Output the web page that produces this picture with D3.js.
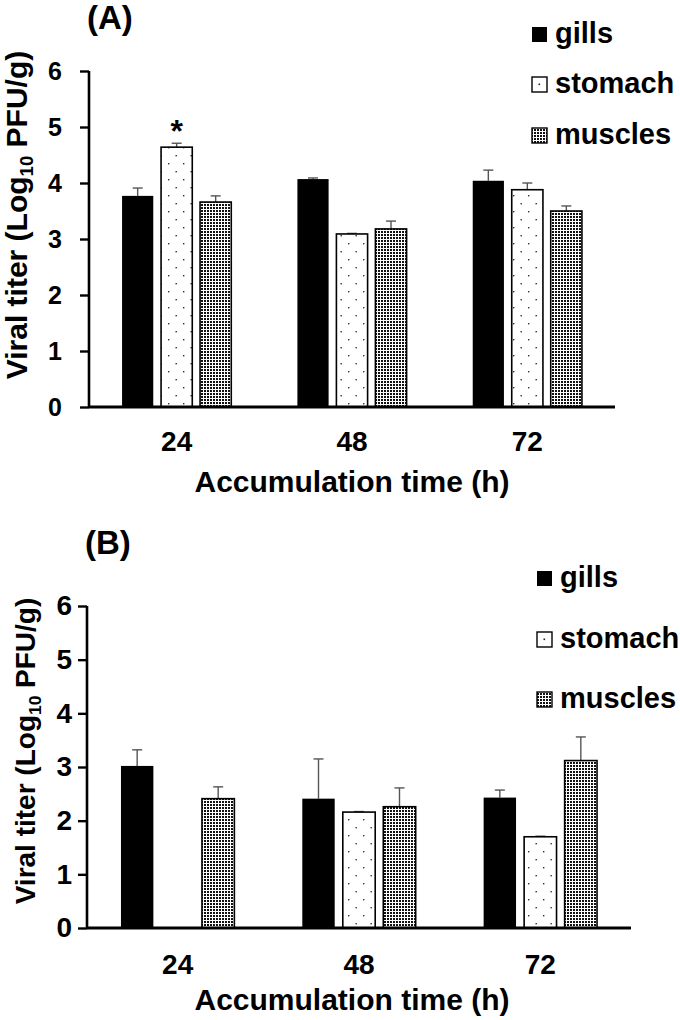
<!DOCTYPE html>
<html>
<head>
<meta charset="utf-8">
<script src="https://cdn.jsdelivr.net/npm/d3@7"></script>
<style>
  body { margin: 0; background: #fff; }
  svg { display: block; }
  text { font-family: "Liberation Sans", Arial, sans-serif; font-weight: bold; fill: #000; }
</style>
</head>
<body>
<svg id="chart" width="680" height="1020"></svg>
<script>
// ---------- data ----------
const categories = ["24", "48", "72"];
const seriesNames = ["gills", "stomach", "muscles"];
const yTicks = [0, 1, 2, 3, 4, 5, 6];

// Panel A
const aGills = [3.77, 4.07, 4.04];
const aGillsErr = [0.14, 0.02, 0.19];
const aStomach = [4.64, 3.09, 3.88];
const aStomachErr = [0.07, 0.01, 0.12];
const aMuscles = [3.66, 3.18, 3.50];
const aMusclesErr = [0.11, 0.14, 0.09];
const aSignificance = [{ cat: "24", series: "stomach", mark: "*" }];

// Panel B
const bGills = [3.02, 2.41, 2.43];
const bGillsErr = [0.30, 0.74, 0.14];
const bStomach = [null, 2.16, 1.70];
const bStomachErr = [null, 0.01, 0.01];
const bMuscles = [2.41, 2.26, 3.12];
const bMusclesErr = [0.22, 0.35, 0.44];

const xTitle = "Accumulation time (h)";

// ---------- drawing ----------
const svg = d3.select("#chart");
const defs = svg.append("defs");

// sparse dot pattern (stomach)
const pS = defs.append("pattern").attr("id", "pStomach").attr("patternUnits", "userSpaceOnUse")
  .attr("width", 15).attr("height", 16);
pS.append("rect").attr("width", 15).attr("height", 16).attr("fill", "#fff");
pS.append("rect").attr("x", 3).attr("y", 3).attr("width", 1.4).attr("height", 1.4).attr("fill", "#333");
pS.append("rect").attr("x", 10.5).attr("y", 11).attr("width", 1.4).attr("height", 1.4).attr("fill", "#333");

// dense dot pattern (muscles)
const pM = defs.append("pattern").attr("id", "pMuscles").attr("patternUnits", "userSpaceOnUse")
  .attr("width", 3).attr("height", 3);
pM.append("rect").attr("width", 3).attr("height", 3).attr("fill", "#fff");
pM.append("rect").attr("x", 0).attr("y", 0).attr("width", 2).attr("height", 2).attr("fill", "#111");

// legend pattern stomach (single dot)
const pL = defs.append("pattern").attr("id", "pStomachLeg").attr("patternUnits", "objectBoundingBox")
  .attr("width", 1).attr("height", 1);
pL.append("rect").attr("width", 15).attr("height", 15).attr("fill", "#fff");
pL.append("rect").attr("x", 6.5).attr("y", 6.5).attr("width", 1.6).attr("height", 1.6).attr("fill", "#222");

const fills = { gills: "#000", stomach: "url(#pStomach)", muscles: "url(#pMuscles)" };
const legFills = { gills: "#000", stomach: "url(#pStomachLeg)", muscles: "url(#pMuscles)" };

function drawPanel(cfg) {
  const g = svg.append("g");
  const y = d3.scaleLinear().domain([0, 6]).range([cfg.y0, cfg.y6]);
  const x = d3.scaleBand().domain(categories).range([cfg.axisX, cfg.xEnd]);
  const step = cfg.barStep;
  const xs = d3.scaleBand().domain(seriesNames)
    .range([-1.5 * step, 1.5 * step]).paddingInner(0.2).paddingOuter(0.1);

  const series = [
    { name: "gills", vals: cfg.gills, errs: cfg.gillsErr },
    { name: "stomach", vals: cfg.stomach, errs: cfg.stomachErr },
    { name: "muscles", vals: cfg.muscles, errs: cfg.musclesErr }
  ];

  const items = [];
  series.forEach(s => categories.forEach((c, i) => {
    if (s.vals[i] != null) items.push({ cat: c, series: s.name, v: s.vals[i], e: s.errs[i] });
  }));

  const cx = d => x(d.cat) + x.bandwidth() / 2 + xs(d.series) + xs.bandwidth() / 2;

  // error bars
  const eb = g.append("g").attr("stroke", "#555").attr("stroke-width", 1.4).attr("fill", "none");
  items.forEach(d => {
    if (!d.e) return;
    eb.append("line").attr("x1", cx(d)).attr("x2", cx(d)).attr("y1", y(d.v)).attr("y2", y(d.v + d.e));
    eb.append("line").attr("x1", cx(d) - 5).attr("x2", cx(d) + 5).attr("y1", y(d.v + d.e)).attr("y2", y(d.v + d.e));
  });

  // bars
  g.append("g").selectAll("rect").data(items).join("rect")
    .attr("x", d => x(d.cat) + x.bandwidth() / 2 + xs(d.series))
    .attr("y", d => y(d.v))
    .attr("width", xs.bandwidth())
    .attr("height", d => y(0) - y(d.v))
    .attr("fill", d => fills[d.series])
    .attr("stroke", "#000")
    .attr("stroke-width", d => d.series === "gills" ? 0 : 1.6);

  // significance marks
  (cfg.sig || []).forEach(s => {
    const d = items.find(it => it.cat === s.cat && it.series === s.series);
    g.append("text").attr("x", cx(d)).attr("y", y(d.v + d.e) - 1)
      .attr("text-anchor", "middle").attr("font-size", 32).text(s.mark);
  });

  // y axis
  const yAxis = g.append("g").attr("transform", `translate(${cfg.axisX},0)`)
    .call(d3.axisLeft(y).tickValues(yTicks).tickFormat(d3.format("d"))
      .tickSize(9).tickPadding(cfg.tickPad));
  yAxis.select(".domain").attr("stroke", "#000").attr("stroke-width", 2.6)
    .attr("d", `M0,${cfg.y6}V${cfg.y0}`);
  yAxis.selectAll(".tick line").attr("stroke", "#000").attr("stroke-width", 2.4);
  yAxis.selectAll(".tick text").attr("font-size", cfg.yTickFont)
    .attr("font-family", "'Liberation Sans', Arial, sans-serif").attr("font-weight", "bold").attr("fill", "#000");

  // x axis
  const xAxis = g.append("g").attr("transform", `translate(0,${cfg.y0})`)
    .call(d3.axisBottom(x).tickSize(0).tickPadding(cfg.xTickPad));
  xAxis.select(".domain").attr("stroke", "#000").attr("stroke-width", 2.8)
    .attr("d", `M${cfg.axisX},0H${cfg.xEnd}`);
  xAxis.selectAll(".tick text").attr("font-size", 28)
    .attr("font-family", "'Liberation Sans', Arial, sans-serif").attr("font-weight", "bold").attr("fill", "#000");

  // x title
  g.append("text").attr("x", 352).attr("y", cfg.xTitleY).attr("text-anchor", "middle")
    .attr("font-size", 30).text(xTitle);

  // y title
  const yt = g.append("text")
    .attr("transform", `translate(${cfg.yTitleX},${cfg.yTitleCy}) rotate(-90)`)
    .attr("text-anchor", "middle").attr("font-size", cfg.yTitleFont);
  yt.append("tspan").text("Viral titer (Log");
  yt.append("tspan").attr("font-size", cfg.yTitleFont * 0.62).attr("dy", cfg.yTitleFont * 0.2).text("10");
  yt.append("tspan").attr("dy", -cfg.yTitleFont * 0.2).text(" PFU/g)");

  // panel label
  g.append("text").attr("x", cfg.labelX).attr("y", cfg.labelY).attr("font-size", 33).text(cfg.label);

  // legend
  seriesNames.forEach((s, i) => {
    g.append("rect").attr("x", cfg.legX).attr("y", cfg.legY[i] - 16).attr("width", 15).attr("height", 15)
      .attr("fill", legFills[s]).attr("stroke", "#000").attr("stroke-width", s === "gills" ? 0 : 1.4);
    g.append("text").attr("x", cfg.legX + 23).attr("y", cfg.legY[i]).attr("font-size", 29).text(s);
  });
}

drawPanel({
  label: "(A)", labelX: 87, labelY: 29,
  y0: 407, y6: 71, axisX: 89, xEnd: 615, barStep: 39,
  tickPad: 18, yTickFont: 25, xTickPad: 24,
  xTitleY: 492, yTitleX: 27, yTitleCy: 215, yTitleFont: 30,
  legX: 532, legY: [43, 93, 144],
  gills: aGills, gillsErr: aGillsErr, stomach: aStomach, stomachErr: aStomachErr,
  muscles: aMuscles, musclesErr: aMusclesErr, sig: aSignificance
});

drawPanel({
  label: "(B)", labelX: 85, labelY: 554,
  y0: 928, y6: 606, axisX: 87, xEnd: 631, barStep: 40.5,
  tickPad: 6, yTickFont: 28, xTickPad: 26,
  xTitleY: 1010, yTitleX: 35, yTitleCy: 751, yTitleFont: 28,
  legX: 537, legY: [587, 648, 708],
  gills: bGills, gillsErr: bGillsErr, stomach: bStomach, stomachErr: bStomachErr,
  muscles: bMuscles, musclesErr: bMusclesErr, sig: []
});
</script>
</body>
</html>
